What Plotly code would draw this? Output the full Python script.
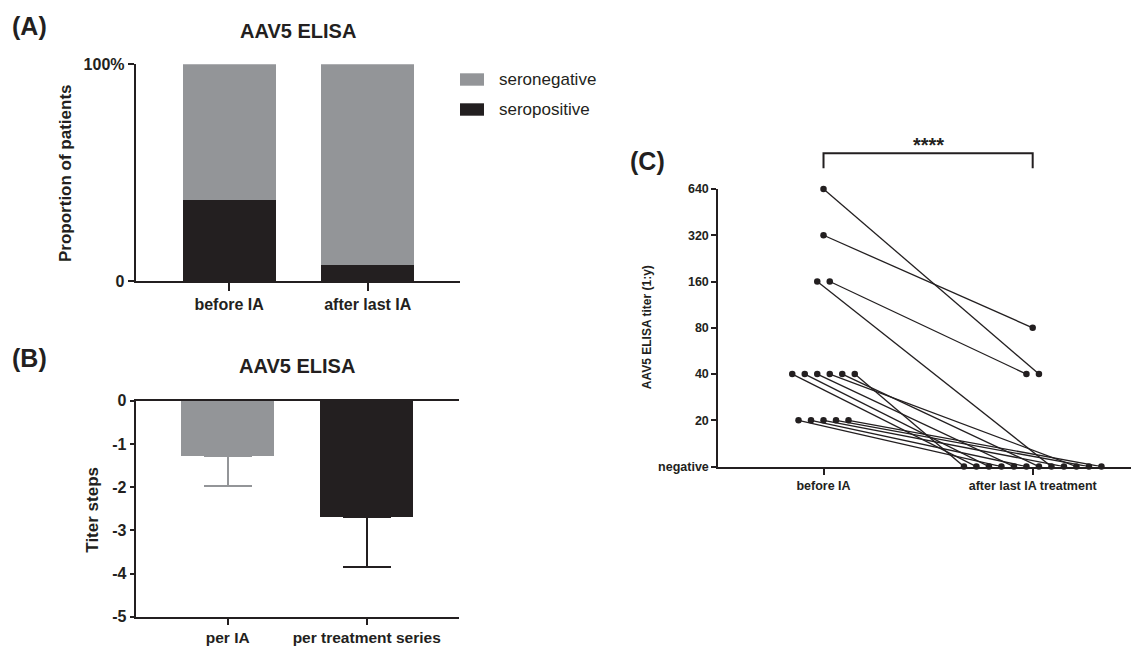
import math
import plotly.graph_objects as go

W, H = 1131, 646
FONT = "Liberation Sans, Arial, Helvetica, sans-serif"
BLACK = "#231f20"
GRAY = "#939598"

# ---------------- data ----------------
# Panel A: proportion of patients (%)
groups_a = ["before IA", "after last IA"]
seropositive_pct = [37.4, 7.4]
seronegative_pct = [62.6, 92.6]

# Panel B: titer steps
groups_b = ["per IA", "per treatment series"]
titer_step_mean = [-1.27, -2.69]
titer_step_sd = [0.70, 1.15]
titer_step_ticks = [0, -1, -2, -3, -4, -5]
titer_step_tick_text = ["0", "-1", "-2", "-3", "-4", "-5"]

# Panel C: paired AAV5 ELISA titers (0 = negative)
timepoints = ["before IA", "after last IA treatment"]
patient_ids = list(range(1, 16))
titer_before = [640, 320, 160, 160, 40, 40, 40, 40, 40, 40, 20, 20, 20, 20, 20]
titer_after = [40, 80, 0, 40, 0, 0, 0, 0, 0, 0, 0, 0, 0, 0, 0]
# left-to-right order of patients inside each column
order_before = [1, 2, 3, 4, 5, 6, 7, 8, 9, 10, 11, 12, 13, 14, 15]
order_after = [4, 1, 2, 10, 5, 6, 11, 7, 12, 9, 3, 13, 8, 14, 15]
titer_ticks = [0, 20, 40, 80, 160, 320, 640]
titer_tick_text = ["negative", "20", "40", "80", "160", "320", "640"]
NEG_PLOT = 10  # position of "negative" on the log2 dilution axis


def px(x):
    return x / W


def py(y):
    return 1 - y / H


def tf(size, bold=True):
    d = dict(family=FONT, size=size, color=BLACK)
    if bold:
        d["weight"] = "bold"
    return d


fig = go.Figure()

# ---------------- Panel A ----------------
fig.add_trace(go.Bar(x=groups_a, y=seropositive_pct, name="seropositive",
                     marker=dict(color=BLACK, line=dict(width=0)), width=0.67,
                     xaxis="x", yaxis="y", showlegend=False))
fig.add_trace(go.Bar(x=groups_a, y=seronegative_pct, name="seronegative",
                     marker=dict(color=GRAY, line=dict(width=0)), width=0.67,
                     xaxis="x", yaxis="y", showlegend=False))

# ---------------- Panel B ----------------
bar_colors_b = [GRAY, BLACK]
for g, m, s, c in zip(groups_b, titer_step_mean, titer_step_sd, bar_colors_b):
    fig.add_trace(go.Bar(x=[g], y=[m], name=g, width=0.67,
                         marker=dict(color=c, line=dict(width=0)),
                         error_y=dict(type="data", symmetric=False, array=[0],
                                      arrayminus=[s], color=c, thickness=2, width=24),
                         xaxis="x2", yaxis="y2", showlegend=False))

# ---------------- Panel C ----------------
C_DOM = (718.3, 1131.0)
C_RANGE = (-0.503, 1.47)
STEP_PX = 12.5
step = STEP_PX * (C_RANGE[1] - C_RANGE[0]) / (C_DOM[1] - C_DOM[0])

before = dict(zip(patient_ids, titer_before))
after = dict(zip(patient_ids, titer_after))


def jitter(order, values):
    groups = {}
    for pid in order:
        groups.setdefault(values[pid], []).append(pid)
    offs = {}
    for v, pids in groups.items():
        n = len(pids)
        for i, pid in enumerate(pids):
            offs[pid] = (i - (n - 1) / 2) * step
    return offs


jb = jitter(order_before, before)
ja = jitter(order_after, after)


def yplot(t):
    return t if t > 0 else NEG_PLOT


xs, ys = [], []
for pid in patient_ids:
    xs += [0 + jb[pid], 1 + ja[pid], None]
    ys += [yplot(before[pid]), yplot(after[pid]), None]

fig.add_trace(go.Scatter(x=xs, y=ys, mode="lines+markers",
                         line=dict(color=BLACK, width=1.3),
                         marker=dict(color=BLACK, size=6.5),
                         cliponaxis=False, connectgaps=False,
                         xaxis="x3", yaxis="y3", showlegend=False))

axis_common = dict(showline=True, linecolor=BLACK, linewidth=2, ticks="outside",
                   tickcolor=BLACK, tickwidth=2, showgrid=False, zeroline=False,
                   automargin=False)

fig.update_layout(
    width=W, height=H,
    margin=dict(l=0, r=0, t=0, b=0, pad=0, autoexpand=False),
    paper_bgcolor="white", plot_bgcolor="white",
    barmode="stack",
    showlegend=False,
    font=dict(family=FONT, color=BLACK),
    xaxis=dict(domain=[px(135.7), px(460)], anchor="y", range=[-0.673, 1.665],
               ticklen=8, tickfont=tf(16), **axis_common),
    yaxis=dict(domain=[py(281), py(64.3)], anchor="x", range=[0, 100],
               tickvals=[0, 100], ticktext=["0", "100%"], ticklen=6,
               tickfont=tf(16), **axis_common),
    xaxis2=dict(domain=[px(135.7), px(459.3)], anchor="y2", range=[-0.662, 1.666],
                ticklen=6, tickfont=tf(15.5), mirror=True, **axis_common),
    yaxis2=dict(domain=[py(616.7), py(400.7)], anchor="x2", range=[-5, 0],
                tickvals=titer_step_ticks, ticktext=titer_step_tick_text, ticklen=4,
                tickfont=tf(16), **axis_common),
    xaxis3=dict(domain=[px(C_DOM[0]), px(C_DOM[1])], anchor="y3", range=list(C_RANGE),
                tickvals=[0, 1], ticktext=timepoints, ticklen=6,
                tickfont=tf(12.5), **axis_common),
    yaxis3=dict(domain=[py(466.6), py(189)], anchor="x3", type="log",
                range=[math.log10(NEG_PLOT), math.log10(640)],
                tickvals=[yplot(t) for t in titer_ticks], ticktext=titer_tick_text,
                ticklen=5, tickfont=tf(12.5), **axis_common),
)

ann = []


def add_text(text, x, y, size, bold=True, angle=0, xanchor="center"):
    ann.append(dict(text=text, x=px(x), y=py(y), xref="paper", yref="paper",
                    showarrow=False, xanchor=xanchor, yanchor="middle",
                    textangle=angle, font=tf(size, bold)))


# panel labels & titles
add_text("(A)", 29.2, 26, 25)
add_text("(B)", 29.2, 358, 25)
add_text("(C)", 647.4, 160.8, 25)
add_text("AAV5 ELISA", 298.3, 30.7, 20)
add_text("AAV5 ELISA", 297.2, 365.7, 20)
# axis titles
add_text("Proportion of patients", 65.7, 173.3, 17, angle=-90)
add_text("Titer steps", 91.7, 510, 17, angle=-90)
add_text("AAV5 ELISA titer (1:y)", 646.7, 327.5, 12, angle=-90)
# significance
add_text("****", 928.1, 145.5, 20)

# legend (panel A)
legend_items = [("seronegative", GRAY, 79.5), ("seropositive", BLACK, 109.5)]
shapes = []
for name, col, yc in legend_items:
    shapes.append(dict(type="rect", xref="paper", yref="paper",
                       x0=px(460), x1=px(484), y0=py(yc + 6.2), y1=py(yc - 6.2),
                       fillcolor=col, line=dict(width=0)))
    add_text(name, 497, yc, 17, bold=False, xanchor="left")

# bracket in panel C spanning the two timepoints
shapes.append(dict(type="path", xref="x3", yref="paper",
                   path=f"M 0,{py(168.2)} L 0,{py(153.3)} L 1,{py(153.3)} L 1,{py(168.2)}",
                   line=dict(color=BLACK, width=2)))

fig.update_layout(annotations=ann, shapes=shapes)

fig.write_html("out.html",
               config={"displayModeBar": False},
               post_script="document.body.style.margin='0px';document.body.style.padding='0px';")
